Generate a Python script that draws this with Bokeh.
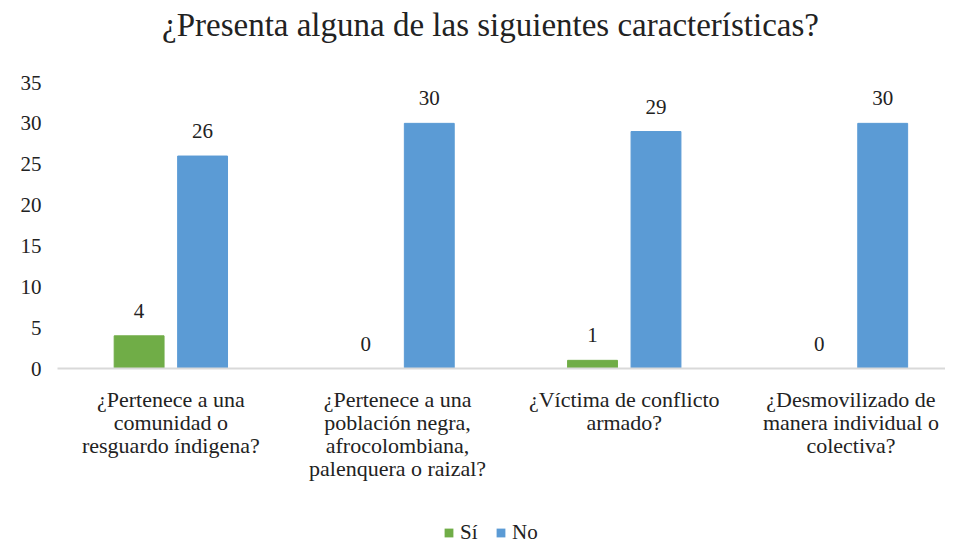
from bokeh.plotting import figure
from bokeh.layouts import column
from bokeh.models import ColumnDataSource, FixedTicker, Range1d, Legend, LegendItem, LabelSet, Label
from bokeh.embed import file_html
from bokeh.resources import INLINE

title_text = "¿Presenta alguna de las siguientes características?"
categories = [
    "¿Pertenece a una\ncomunidad o\nresguardo índigena?",
    "¿Pertenece a una\npoblación negra,\nafrocolombiana,\npalenquera o raizal?",
    "¿Víctima de conflicto\narmado?",
    "¿Desmovilizado de\nmanera individual o\ncolectiva?",
]
series_names = ["Sí", "No"]
si_values = [4, 0, 1, 0]
no_values = [26, 30, 29, 30]
y_ticks = [0, 5, 10, 15, 20, 25, 30, 35]

GREEN = "#70AD47"
BLUE = "#5B9BD5"
FONT = "Liberation Serif"
TXT = "#222222"
W = 945


def blank(height):
    f = figure(width=W, height=height, output_backend="svg", toolbar_location=None,
               x_range=Range1d(0, 1), y_range=Range1d(0, 1),
               x_axis_location=None, y_axis_location=None, min_border=0)
    f.grid.visible = False
    f.outline_line_color = None
    return f


# title strip (its frame is aligned with the chart frame, which starts 57px in)
tp = blank(45)
tp.add_layout(Label(x=433, y=21, x_units="screen", y_units="screen", text=title_text,
                    text_align="center", text_baseline="middle",
                    text_font=FONT, text_font_size="33px", text_color=TXT))

# main chart
centers = [i + 0.5 for i in range(len(categories))]
offset = 0.14
bar_w = 0.22

src_si = ColumnDataSource(dict(x=[c - offset for c in centers], top=si_values,
                               lab=[str(v) for v in si_values]))
src_no = ColumnDataSource(dict(x=[c + offset for c in centers], top=no_values,
                               lab=[str(v) for v in no_values]))

p = figure(width=W, height=465, output_backend="svg", toolbar_location=None,
           x_range=Range1d(0, 3.917), y_range=Range1d(0, 35),
           min_border_left=57, min_border_right=0, min_border_top=37, min_border_bottom=142)

p.vbar(x="x", top="top", width=bar_w, source=src_si, color=GREEN)
p.vbar(x="x", top="top", width=bar_w, source=src_no, color=BLUE)

for src in (src_si, src_no):
    p.add_layout(LabelSet(x="x", y="top", text="lab", source=src, y_offset=18,
                          text_align="center", text_baseline="bottom",
                          text_font=FONT, text_font_size="21px", text_color=TXT))

p.xaxis.ticker = FixedTicker(ticks=centers)
p.xaxis.major_label_overrides = {c: lab for c, lab in zip(centers, categories)}
p.xaxis.major_tick_line_color = None
p.xaxis.minor_tick_line_color = None
p.xaxis.axis_line_color = "#D9D9D9"
p.xaxis.axis_line_width = 2
p.xaxis.major_label_text_font = FONT
p.xaxis.major_label_text_font_size = "22px"
p.xaxis.major_label_text_line_height = 0.93
p.xaxis.major_label_text_color = TXT
p.xaxis.major_label_standoff = 12

p.yaxis.ticker = FixedTicker(ticks=y_ticks)
p.yaxis.major_tick_line_color = None
p.yaxis.minor_tick_line_color = None
p.yaxis.axis_line_color = None
p.yaxis.major_label_text_font = FONT
p.yaxis.major_label_text_font_size = "21px"
p.yaxis.major_label_text_color = TXT
p.yaxis.major_label_standoff = 10

p.xgrid.visible = False
p.ygrid.visible = False
p.outline_line_color = None

# legend strip (zero-size keys: only their swatches appear in the legend)
lg = blank(35)
r_si = lg.vbar(x=[0.5], top=[0], bottom=[0], width=0, fill_color=GREEN, line_color=None)
r_no = lg.vbar(x=[0.5], top=[0], bottom=[0], width=0, fill_color=BLUE, line_color=None)
legend = Legend(items=[LegendItem(label=series_names[0], renderers=[r_si]),
                       LegendItem(label=series_names[1], renderers=[r_no])],
                orientation="horizontal", location=(386, 0),
                label_text_font=FONT, label_text_font_size="21px", label_text_color=TXT,
                glyph_width=11, glyph_height=11, spacing=15, label_standoff=6,
                border_line_color=None, background_fill_alpha=0, padding=0, margin=0)
lg.add_layout(legend)

layout = column(tp, p, lg, spacing=0)
open("out.html", "w").write(file_html(layout, INLINE))
